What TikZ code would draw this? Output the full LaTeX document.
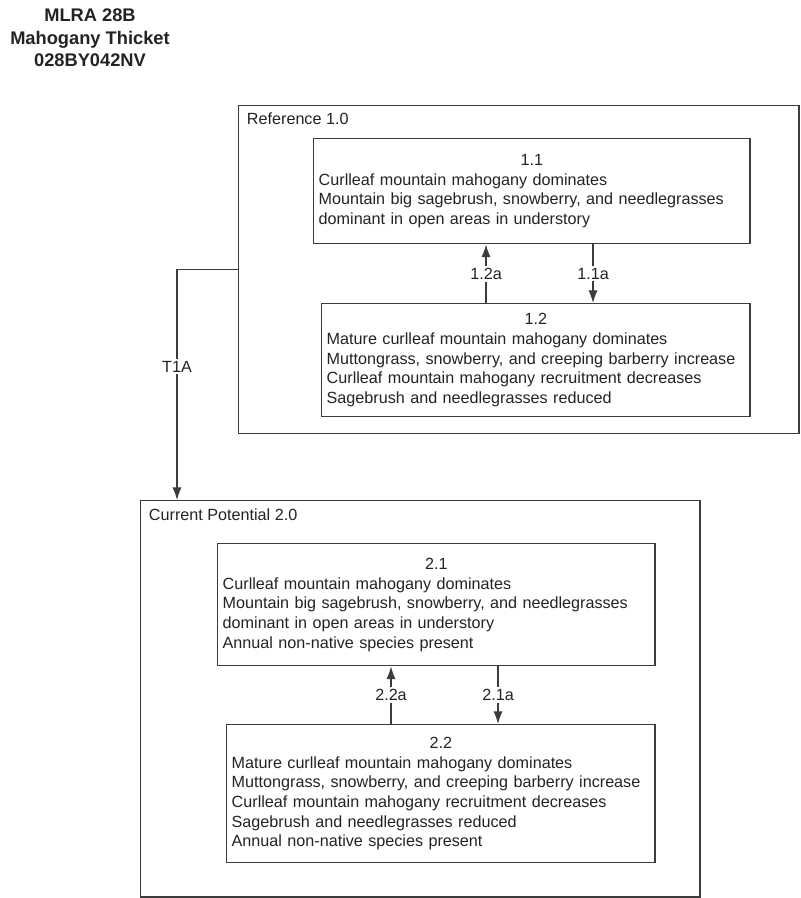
\documentclass[tikz,border=0pt]{standalone}
\usepackage{fontspec}
\setmainfont{Liberation Sans}
\usetikzlibrary{arrows.meta}

\begin{document}
\begin{tikzpicture}[x=0.025cm,y=-0.025cm,
  font=\fontsize{11.5}{14}\selectfont,
  frame/.style={draw=ink,line width=1pt,anchor=north west,inner sep=0pt},
  state/.style={draw=ink,line width=1pt,anchor=north west,
    inner sep=0.125cm,align=left,text=txt},
  trans/.style={draw=ink,line width=.8pt,-{Latex[length=9pt,width=6.5pt]}},
  tlabel/.style={fill=white,inner sep=1.5pt,text=txt}]
 \definecolor{ink}{RGB}{60,60,60}
 \definecolor{txt}{RGB}{35,35,35}
 \useasboundingbox (0,0) rectangle (800,898);
 \node[align=center,text=txt,font=\bfseries\fontsize{13}{16}\selectfont]
   (title) at (90,38) {MLRA 28B\\Mahogany Thicket\\028BY042NV};
 % reference state
 \node[frame,minimum width=14cm,minimum height=8.2cm] (ref) at (238,105) {};
 \node[anchor=west,text=txt] (reflab) at ([shift={(4,14)}]ref.north west)
   {Reference 1.0};
 \node[state,text width=10.65cm,minimum height=2.625cm] (s11) at (313,138)
   {{\centering 1.1\par}
    Curlleaf mountain mahogany dominates\\
    Mountain big sagebrush, snowberry, and needlegrasses\\
    dominant in open areas in understory};
 \node[state,text width=10.45cm,minimum height=2.825cm] (s12) at (321,303)
   {{\centering 1.2\par}
    Mature curlleaf mountain mahogany dominates\\
    Muttongrass, snowberry, and creeping barberry increase\\
    Curlleaf mountain mahogany recruitment decreases\\
    Sagebrush and needlegrasses reduced};
 % current potential state
 \node[frame,minimum width=13.975cm,minimum height=9.9cm] (cur) at (140,500) {};
 \node[anchor=west,text=txt] (curlab) at ([shift={(4,15)}]cur.north west)
   {Current Potential 2.0};
 \node[state,text width=10.675cm,minimum height=3.05cm] (s21) at (217,543)
   {{\centering 2.1\par}
    Curlleaf mountain mahogany dominates\\
    Mountain big sagebrush, snowberry, and needlegrasses\\
    dominant in open areas in understory\\
    Annual non-native species present};
 \node[state,text width=10.45cm,minimum height=3.45cm] (s22) at (226,724)
   {{\centering 2.2\par}
    Mature curlleaf mountain mahogany dominates\\
    Muttongrass, snowberry, and creeping barberry increase\\
    Curlleaf mountain mahogany recruitment decreases\\
    Sagebrush and needlegrasses reduced\\
    Annual non-native species present};
 % pathways
 \foreach \a/\b/\xp/\lab in {
   s12.north/s11.south/486/1.2a, s11.south/s12.north/593/1.1a,
   s22.north/s21.south/391/2.2a, s21.south/s22.north/498/2.1a
 } {
   \draw[trans] (\a -| \xp,0) -- (\b -| \xp,0)
     node[midway,tlabel] {\lab};
 }
 \draw[trans] (ref.west) -| (cur.north -| 177,0)
   node[pos=.71,tlabel] {T1A};
\end{tikzpicture}
\end{document}
